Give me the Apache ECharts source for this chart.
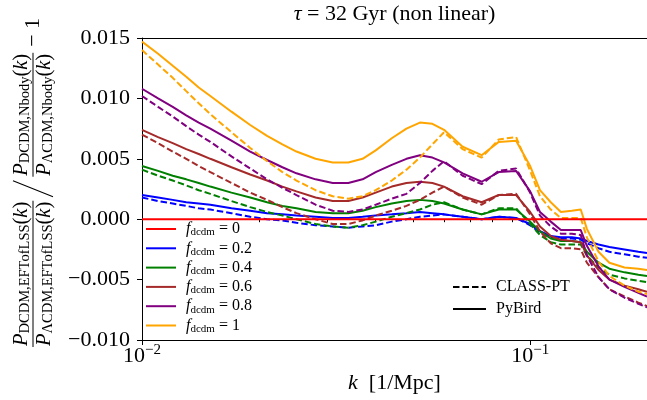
<!DOCTYPE html>
<html>
<head>
<meta charset="utf-8">
<script src="https://cdn.jsdelivr.net/npm/echarts@6/dist/echarts.min.js"></script>
<style>
html,body{margin:0;padding:0;background:#fff;}
#chart{width:647px;height:400px;}
</style>
</head>
<body>
<div id="chart"></div>
<script>
// ---- data ----
const K = [0.01,0.011,0.012,0.013,0.014,0.015,0.017,0.019,0.021,0.023,0.025,0.028,0.031,0.034,0.037,0.04,0.044,0.048,0.052,0.056,0.06,0.067,0.075,0.083,0.092,0.1,0.106,0.113,0.12,0.128,0.135,0.14,0.15,0.16,0.175,0.19,0.2];
const K_ZERO = [0.01, 0.2];
const F0 = [0, 0];
// PyBird (solid) and CLASS-PT (dashed)
const PYB_02 = [0.0020,0.0018,0.0016,0.0014,0.0013,0.0012,0.0009,0.0007,0.0005,0.0004,0.0003,0.0002,0.0001,0.0001,0.0002,0.0003,0.0004,0.0005,0.0006,0.0005,0.0004,0.0002,0.0000,0.0002,0.0001,-0.0004,-0.0010,-0.0014,-0.0015,-0.0015,-0.0016,-0.0018,-0.0021,-0.0023,-0.0025,-0.0027,-0.0028];
const CPT_02 = [0.0018,0.0015,0.0013,0.0011,0.0009,0.0008,0.0005,0.0002,0.0000,-0.0001,-0.0003,-0.0005,-0.0006,-0.0007,-0.0006,-0.0005,-0.0002,0.0000,0.0002,0.0003,0.0004,0.0002,0.0000,0.0002,0.0001,-0.0005,-0.0011,-0.0015,-0.0016,-0.0016,-0.0017,-0.0020,-0.0024,-0.0027,-0.0029,-0.0031,-0.0032];
const PYB_04 = [0.0044,0.0040,0.0036,0.0033,0.0030,0.0027,0.0022,0.0018,0.0014,0.0011,0.0009,0.0006,0.0005,0.0005,0.0007,0.0010,0.0013,0.0015,0.0016,0.0015,0.0013,0.0008,0.0004,0.0008,0.0008,-0.0002,-0.0010,-0.0016,-0.0018,-0.0018,-0.0019,-0.0027,-0.0036,-0.0041,-0.0044,-0.0046,-0.0047];
const CPT_04 = [0.0041,0.0036,0.0032,0.0028,0.0024,0.0021,0.0015,0.0010,0.0006,0.0003,0.0000,-0.0004,-0.0006,-0.0007,-0.0005,-0.0002,0.0002,0.0005,0.0008,0.0012,0.0014,0.0008,0.0004,0.0009,0.0009,-0.0004,-0.0013,-0.0019,-0.0021,-0.0021,-0.0021,-0.0030,-0.0040,-0.0046,-0.0049,-0.0051,-0.0052];
const PYB_06 = [0.0074,0.0068,0.0063,0.0058,0.0054,0.0050,0.0043,0.0037,0.0032,0.0027,0.0023,0.0018,0.0015,0.0015,0.0018,0.0022,0.0027,0.0030,0.0031,0.0030,0.0027,0.0019,0.0014,0.0020,0.0020,0.0006,-0.0006,-0.0014,-0.0017,-0.0018,-0.0019,-0.0030,-0.0042,-0.0050,-0.0055,-0.0058,-0.0060];
const CPT_06 = [0.0070,0.0063,0.0056,0.0050,0.0044,0.0039,0.0030,0.0022,0.0016,0.0010,0.0005,0.0000,-0.0004,-0.0004,-0.0001,0.0003,0.0007,0.0011,0.0016,0.0022,0.0027,0.0018,0.0012,0.0020,0.0021,0.0004,-0.0010,-0.0020,-0.0024,-0.0024,-0.0025,-0.0036,-0.0048,-0.0058,-0.0064,-0.0069,-0.0072];
const PYB_08 = [0.0108,0.0100,0.0093,0.0086,0.0080,0.0075,0.0065,0.0056,0.0049,0.0043,0.0038,0.0033,0.0030,0.0030,0.0033,0.0039,0.0045,0.0050,0.0053,0.0051,0.0047,0.0038,0.0031,0.0039,0.0040,0.0023,0.0006,-0.0002,-0.0009,-0.0009,-0.0009,-0.0022,-0.0039,-0.0050,-0.0056,-0.0061,-0.0064];
const CPT_08 = [0.0102,0.0093,0.0085,0.0077,0.0070,0.0064,0.0052,0.0042,0.0033,0.0026,0.0020,0.0012,0.0007,0.0006,0.0008,0.0012,0.0017,0.0021,0.0030,0.0040,0.0048,0.0036,0.0029,0.0040,0.0042,0.0022,0.0003,-0.0006,-0.0012,-0.0012,-0.0013,-0.0030,-0.0048,-0.0058,-0.0065,-0.0070,-0.0073];
const PYB_1 = [0.0147,0.0137,0.0127,0.0118,0.0109,0.0102,0.0089,0.0078,0.0069,0.0062,0.0056,0.0050,0.0047,0.0047,0.0050,0.0057,0.0067,0.0075,0.0080,0.0079,0.0074,0.0060,0.0053,0.0064,0.0065,0.0044,0.0024,0.0014,0.0006,0.0007,0.0008,-0.0008,-0.0027,-0.0036,-0.0040,-0.0041,-0.0042];
const CPT_1 = [0.0140,0.0128,0.0117,0.0106,0.0096,0.0087,0.0072,0.0059,0.0048,0.0039,0.0032,0.0024,0.0019,0.0017,0.0019,0.0024,0.0032,0.0041,0.0051,0.0062,0.0072,0.0058,0.0051,0.0066,0.0068,0.0040,0.0019,0.0008,0.0001,0.0001,0.0001,-0.0015,-0.0035,-0.0047,-0.0055,-0.0060,-0.0062];
const F_LABELS = ['0', '0.2', '0.4', '0.6', '0.8', '1'];
const X_MAJOR = [0.01, 0.1];
const X_MINOR = [0.02,0.03,0.04,0.05,0.06,0.07,0.08,0.09,0.2];

// ---- drawing ----
const FF = 'Liberation Serif';
const chart = echarts.init(document.getElementById('chart'), null, {renderer: 'canvas'});
const ctx = document.createElement('canvas').getContext('2d');
function tw(t, size, italic) {
  ctx.font = (italic ? 'italic ' : '') + size + 'px "' + FF + '"';
  return ctx.measureText(t).width;
}
function rowWidth(segs) { return segs.reduce((a, s) => a + tw(s.t, s.s, s.i), 0); }
function rowEls(segs, x0, yc) {
  let x = x0; const els = [];
  segs.forEach(s => {
    els.push({type: 'text', x: x, y: yc + (s.dy || 0), silent: true,
      style: {text: s.t, fontFamily: FF, fontSize: s.s, fontStyle: s.i ? 'italic' : 'normal', fill: '#000', align: 'left', verticalAlign: 'middle'}});
    x += tw(s.t, s.s, s.i);
  });
  return els;
}
function pSegs(sub) {
  return [{t: 'P', s: 20.5, i: true}, {t: sub, s: 14.5, dy: 4}, {t: '(', s: 20.5}, {t: 'k', s: 20.5, i: true}, {t: ')', s: 20.5}];
}
// y-axis label (built horizontally, then rotated)
const n1 = pSegs('DCDM,EFTofLSS'), d1 = pSegs('\u039BCDM,EFTofLSS');
const n2 = pSegs('DCDM,Nbody'), d2 = pSegs('\u039BCDM,Nbody');
const W1 = Math.max(rowWidth(n1), rowWidth(d1)) + 2;
const W2 = Math.max(rowWidth(n2), rowWidth(d2)) + 2;
const yl = [];
yl.push(...rowEls(n1, (W1 - rowWidth(n1)) / 2, -11.5));
yl.push(...rowEls(d1, (W1 - rowWidth(d1)) / 2, 11.5));
yl.push({type: 'line', silent: true, shape: {x1: 0, y1: 0, x2: W1, y2: 0}, style: {stroke: '#000', lineWidth: 1}});
const sx = W1 + 4;
yl.push({type: 'line', silent: true, shape: {x1: sx, y1: 20, x2: sx + 16, y2: -20}, style: {stroke: '#000', lineWidth: 1.1}});
const f2x = sx + 20;
yl.push(...rowEls(n2, f2x + (W2 - rowWidth(n2)) / 2, -11.5));
yl.push(...rowEls(d2, f2x + (W2 - rowWidth(d2)) / 2, 11.5));
yl.push({type: 'line', silent: true, shape: {x1: f2x, y1: 0, x2: f2x + W2, y2: 0}, style: {stroke: '#000', lineWidth: 1}});
yl.push(...rowEls([{t: '\u2212 1', s: 22}], f2x + W2 + 6, 0));

const titleSegs = [{t: '\u03C4', s: 22, i: true}, {t: ' = 32 Gyr (non linear)', s: 22}];
const titleEls = rowEls(titleSegs, 394.5 - rowWidth(titleSegs) / 2, 14);

const COLORS = ['#ff0000', '#0000ff', '#008000', '#a52a2a', '#800080', '#ffa500'];
const PYB = [null, PYB_02, PYB_04, PYB_06, PYB_08, PYB_1];
const CPT = [null, CPT_02, CPT_04, CPT_06, CPT_08, CPT_1];
const DASH = [6.5, 3];
const names = F_LABELS.map(f => 'f_dcdm = ' + f);
const series = [];
for (let j = 1; j < 6; j++) {
  series.push({type: 'line', name: names[j], symbol: 'none', silent: true, z: 2,
    data: K.map((k, i) => [k, PYB[j][i]]), lineStyle: {color: COLORS[j], width: 2}, itemStyle: {color: COLORS[j]}});
  series.push({type: 'line', name: names[j], symbol: 'none', silent: true, z: 2,
    data: K.map((k, i) => [k, CPT[j][i]]), lineStyle: {color: COLORS[j], width: 2, type: DASH}, itemStyle: {color: COLORS[j]}});
}
series.push({type: 'line', name: names[0], symbol: 'none', silent: true, z: 3,
  data: K_ZERO.map((k, i) => [k, F0[i]]), lineStyle: {color: COLORS[0], width: 2}, itemStyle: {color: COLORS[0]}});
series.push({type: 'line', name: 'CLASS-PT', symbol: 'none', data: [], lineStyle: {color: '#000', width: 2, type: DASH}, itemStyle: {color: '#000'}});
series.push({type: 'line', name: 'PyBird', symbol: 'none', data: [], lineStyle: {color: '#000', width: 2}, itemStyle: {color: '#000'}});

const black = {color: '#000', width: 1};
const option = {
  animation: false,
  backgroundColor: '#fff',
  grid: {left: 142, right: 0, top: 38, bottom: 60},
  xAxis: [
    {type: 'log', logBase: 10, min: 0.01, max: 0.2, position: 'bottom',
     axisLine: {show: true, onZero: false, lineStyle: black},
     axisTick: {show: true, customValues: X_MAJOR, length: 5, lineStyle: black},
     axisLabel: {customValues: X_MAJOR, margin: 3, color: '#000',
       formatter: v => '{b|10}{s|\u2212' + Math.round(-Math.log10(v)) + '}',
       rich: {b: {fontFamily: FF, fontSize: 22, lineHeight: 24, color: '#000', verticalAlign: 'bottom'},
              s: {fontFamily: FF, fontSize: 15, lineHeight: 15, color: '#000', verticalAlign: 'top'}}},
     splitLine: {show: false},
     name: '{i|k}{r|  [1/Mpc]}', nameLocation: 'middle', nameGap: 30,
     nameTextStyle: {rich: {i: {fontFamily: FF, fontStyle: 'italic', fontSize: 22, color: '#000'},
                            r: {fontFamily: FF, fontSize: 22, color: '#000'}}}},
    {type: 'log', logBase: 10, min: 0.01, max: 0.2, position: 'bottom',
     axisLine: {show: false},
     axisTick: {show: true, customValues: X_MINOR, length: 3, lineStyle: black},
     axisLabel: {show: false}, splitLine: {show: false}},
    {type: 'log', logBase: 10, min: 0.01, max: 0.2, position: 'top',
     axisLine: {show: true, lineStyle: black}, axisTick: {show: false},
     axisLabel: {show: false}, splitLine: {show: false}}
  ],
  yAxis: {type: 'value', min: -0.01, max: 0.015, interval: 0.005,
    axisLine: {show: true, lineStyle: black},
    axisTick: {show: true, length: 5, lineStyle: black},
    axisLabel: {margin: 12, color: '#000', fontFamily: FF, fontSize: 22,
      formatter: v => (Math.abs(v) < 1e-12 ? 0 : v).toFixed(3).replace('-', '\u2212')},
    splitLine: {show: false}},
  legend: [
    {orient: 'vertical', left: 145, top: 221, padding: 0, itemWidth: 30, itemHeight: 14, itemGap: 2.3,
     selectedMode: false, data: names, itemStyle: {opacity: 0},
     formatter: n => '{f|f}{s|dcdm}{t| = ' + n.split('= ')[1] + '}',
     textStyle: {color: '#000', rich: {
       f: {fontFamily: FF, fontStyle: 'italic', fontSize: 16, lineHeight: 18, color: '#000', padding: [0, 0, 0, 5]},
       s: {fontFamily: FF, fontSize: 11, lineHeight: 11, color: '#000', verticalAlign: 'bottom'},
       t: {fontFamily: FF, fontSize: 16, lineHeight: 18, color: '#000'}}}},
    {orient: 'vertical', left: 452, top: 278, padding: 0, itemWidth: 33, itemHeight: 14, itemGap: 4,
     selectedMode: false, data: ['CLASS-PT', 'PyBird'], itemStyle: {opacity: 0},
     textStyle: {color: '#000', fontFamily: FF, fontSize: 16, lineHeight: 18, padding: [0, 0, 0, 5]}}
  ],
  graphic: [
    {type: 'group', x: 33, y: 347, rotation: Math.PI / 2, children: yl, silent: true},
    {type: 'group', children: titleEls, silent: true}
  ],
  series: series
};
chart.setOption(option);
</script>
</body>
</html>
